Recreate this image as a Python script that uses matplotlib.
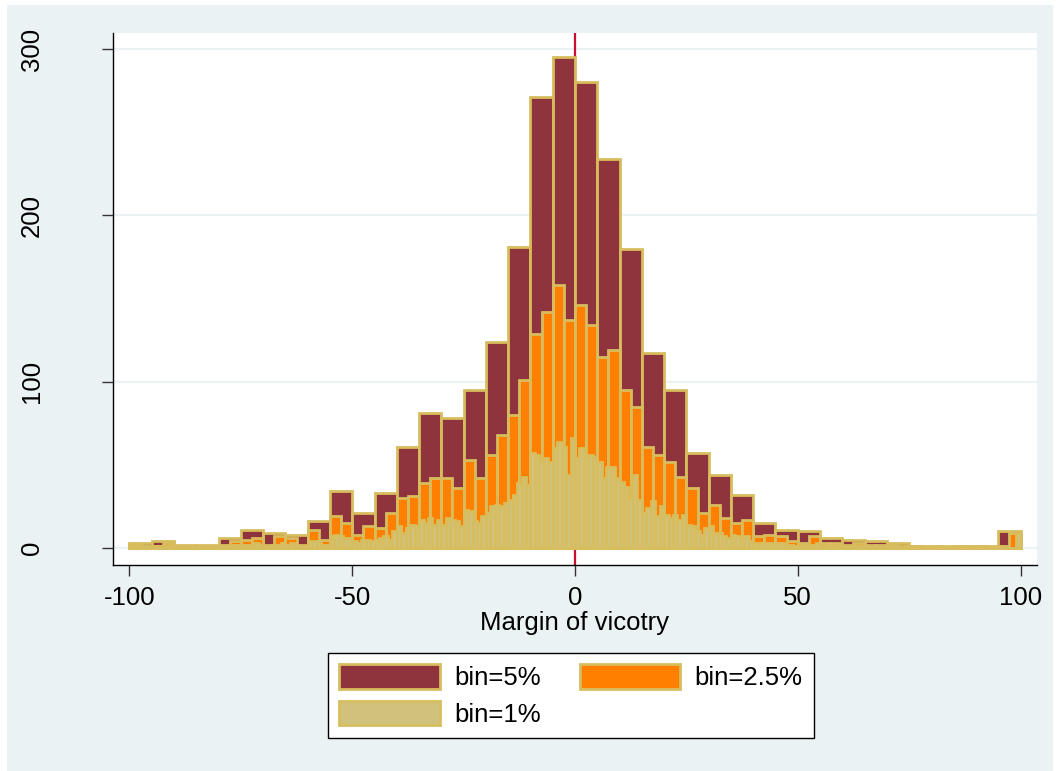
import matplotlib
matplotlib.use("Agg")
import matplotlib.pyplot as plt
from matplotlib.patches import Patch, Rectangle
import numpy as np

plt.rcParams['font.family'] = ['Liberation Sans', 'DejaVu Sans']
plt.rcParams['axes.unicode_minus'] = False

# counts per bin (bins start at -100)
counts_5 = [3, 4, 2, 2, 6, 11, 9, 8, 16, 34,
            21, 33, 61, 81, 78, 95, 124, 181, 271, 295,
            280, 234, 180, 117, 95, 57, 44, 32, 15, 11,
            10, 6, 5, 4, 3, 1, 1, 1, 1, 10]

counts_25 = [2, 1, 1, 3, 1, 1, 1, 1, 2, 4,
             5, 6, 2, 7, 6, 2, 11, 5, 19, 15,
             8, 13, 12, 21, 30, 31, 39, 42, 42, 36,
             53, 42, 56, 68, 80, 101, 129, 142, 158, 137,
             146, 134, 115, 119, 95, 85, 61, 56, 52, 43,
             36, 21, 26, 18, 15, 17, 7, 8, 7, 4,
             3, 7, 3, 3, 2, 3, 2, 2, 2, 1,
             1, 0, 1, 0, 1, 0, 1, 0, 1, 9]

counts_1 = [1, 1, 0, 1, 0,  0, 1, 1, 1, 1,  0, 1, 0, 0, 1,  0, 1, 0, 1, 0,
            1, 0, 1, 2, 2,  2, 2, 2, 3, 2,  1, 1, 2, 2, 3,  2, 3, 1, 1, 1,
            4, 4, 4, 2, 2,  7, 8, 7, 6, 6,  4, 3, 5, 5, 4,  5, 6, 7, 5, 10,
            13, 9, 12, 14, 13,  17, 15, 18, 14, 17,  14, 18, 17, 16, 13,
            23, 22, 16, 15, 19,  21, 25, 26, 25, 27,  29, 32, 39, 43, 38,
            57, 56, 52, 54, 52,  60, 64, 61, 44, 66,
            54, 60, 55, 56, 55,  52, 42, 49, 49, 42,  40, 37, 30, 44, 29,
            21, 24, 28, 19, 25,  20, 18, 20, 17, 20,  14, 13, 10, 8, 12,
            13, 9, 9, 7, 6,  8, 7, 6, 7, 4,  3, 3, 3, 3, 3,  3, 3, 2, 2, 1,
            1, 2, 2, 2, 3,  1, 1, 2, 1, 1,  1, 1, 1, 1, 1,  1, 1, 0, 1, 1,
            1, 0, 1, 0, 1,  0, 0, 1, 0, 0,  0, 1, 0, 0, 0,  0, 0, 0, 1, 0,
            0, 1, 0, 0, 0,  1, 0, 0, 0, 9]

x_ticks = [-100, -50, 0, 50, 100]
y_ticks = [0, 100, 200, 300]
labels = ["bin=5%", "bin=2.5%", "bin=1%"]

maroon = "#8F343C"
orange = "#FF8000"
sand = "#D0C27D"
sand_edge = "#D7BD5E"
bg = "#EAF2F3"

fig = plt.figure(figsize=(10.59, 7.71), dpi=100, facecolor="white")
fig.patches.append(Rectangle((7 / 1059, 0), 1 - 13 / 1059, 1 - 5 / 771,
                             transform=fig.transFigure, facecolor=bg,
                             edgecolor="none", zorder=-10))
ax = fig.add_axes([113 / 1059, 1 - 565 / 771, 924 / 1059, 532 / 771])
ax.set_facecolor("white")

for width, counts, color, z in [(5, counts_5, maroon, 3),
                                (2.5, counts_25, orange, 4),
                                (1, counts_1, sand, 5)]:
    left = -100 + width * np.arange(len(counts))
    ax.bar(left, counts, width=width, align="edge", color=color,
           edgecolor=sand_edge, linewidth=2.0, zorder=z)

ax.axvline(0, color="#C8102E", linewidth=1.6, zorder=2)

ax.set_xlim(-103.7, 103.7)
ax.set_ylim(-10.2, 309.7)
ax.set_xticks(x_ticks)
ax.set_yticks(y_ticks)
ax.yaxis.grid(True, color=bg, linewidth=1.6, zorder=1)
ax.set_axisbelow(True)

for side in ["top", "right"]:
    ax.spines[side].set_visible(False)
for side in ["left", "bottom"]:
    ax.spines[side].set_color("black")
    ax.spines[side].set_linewidth(1.0)

ax.tick_params(axis="both", length=8, width=1, color="#333333",
               labelsize=18.5)
ax.tick_params(axis="y", pad=42)
ax.tick_params(axis="x", pad=7)
for t in ax.get_yticklabels():
    t.set_rotation(90)
    t.set_verticalalignment("center")

ax.set_xlabel("Margin of vicotry", fontsize=18.5, labelpad=1)

handles = [Patch(facecolor=maroon, edgecolor=sand_edge, linewidth=2.0),
           Patch(facecolor=sand, edgecolor=sand_edge, linewidth=2.0),
           Patch(facecolor=orange, edgecolor=sand_edge, linewidth=2.0)]
leg = fig.legend(handles, [labels[0], labels[2], labels[1]], ncol=2,
                 loc="center", bbox_to_anchor=(571 / 1059, 1 - 695.5 / 771),
                 fontsize=18.5, frameon=True, fancybox=False, framealpha=1,
                 handlelength=3.9, handleheight=1.08, handletextpad=0.58,
                 columnspacing=1.5, labelspacing=0.4, borderpad=0.45)
leg.get_frame().set_edgecolor("black")
leg.get_frame().set_linewidth(1.0)
leg.get_frame().set_facecolor("white")

fig.savefig("out.png", dpi=100, facecolor=fig.get_facecolor())
